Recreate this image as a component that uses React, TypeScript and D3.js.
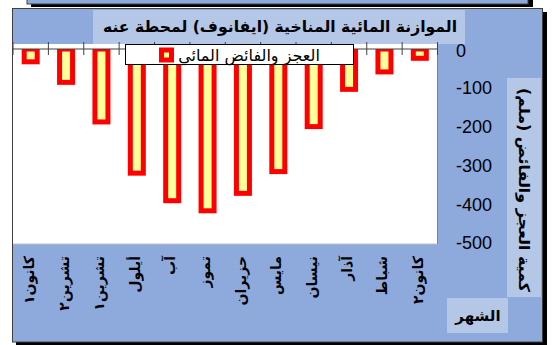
import React from 'react';
import * as d3 from 'd3';

// Monthly climatic water balance (Ivanov), mm
const months = ['كانون٢', 'شباط', 'آذار', 'نيسان', 'مايس', 'حزيران', 'تموز', 'آب', 'أيلول', 'تشرين١', 'تشرين٢', 'كانون١'];
const balance = [-24, -59, -104, -200, -316, -372, -417, -391, -320, -188, -86, -33];
const yTicks = [0, -100, -200, -300, -400, -500];

const chartTitle = 'الموازنة المائية المناخية (ايفانوف) لمحطة عنه';
const seriesName = 'العجز والفائض المائي';
const yTitle = 'كمية العجز والفائض (ملم)';
const xTitle = 'الشهر';

const W = 558;
const H = 345;
const BLUE = '#8EA9DB';
const LIGHT = '#B4C7E7';
const AR = "'DejaVu Sans', sans-serif";
const NUM = "'Liberation Sans', Arial, sans-serif";

const plot = { left: 13, right: 437.5, top: 44, bottom: 244 };

export default function App() {
  const x = d3.scaleBand<string>().domain(months).range([plot.right, plot.left]);
  const y = d3.scaleLinear().domain([0, -500]).range([49, 243]);
  const bw = x.bandwidth();
  const barW = 13;
  const edges = d3.range(months.length + 1).map((i) => plot.left + i * bw);

  return (
    <svg width={W} height={H} style={{ position: 'absolute', left: 0, top: 0 }}>
      <defs>
        <clipPath id="barClip">
          <rect x={plot.left} y={y(0)} width={plot.right - plot.left} height={plot.bottom - y(0)} />
        </clipPath>
      </defs>

      {/* frame of the neighbouring chart above */}
      <rect x={31} y={-10} width={502} height={17} fill="#000" />
      <rect x={27} y={-10} width={501} height={14} fill={BLUE} stroke="#404040" />

      {/* chart area with shadow */}
      <rect x={16} y={12} width={531} height={333} fill="#000" />
      <rect x={12.5} y={8.5} width={530} height={333.5} fill={BLUE} stroke="#404040" />

      {/* title */}
      <rect x={93} y={10} width={372} height={34} fill={LIGHT} />
      <text
        x={280}
        y={27}
        dy="0.35em"
        textAnchor="middle"
        fontFamily={AR}
        fontWeight="bold"
        fontSize={15.5}
        textLength={354}
        lengthAdjust="spacingAndGlyphs"
      >
        {chartTitle}
      </text>

      {/* plot area */}
      <rect x={plot.left} y={plot.top} width={plot.right - plot.left} height={plot.bottom - plot.top} fill="#fff" />
      <line x1={plot.right} x2={plot.right} y1={plot.top} y2={plot.bottom} stroke="#808080" />
      <line x1={plot.left} x2={plot.right} y1={plot.bottom} y2={plot.bottom} stroke="#c0c0c0" />
      <line x1={12.5} x2={12.5} y1={8.5} y2={342} stroke="#404040" />

      {/* bars */}
      <g clipPath="url(#barClip)">
        {months.map((m, i) => {
          const cx = (x(m) as number) + bw / 2;
          return (
            <rect
              key={m}
              x={cx - barW / 2}
              y={y(0)}
              width={barW}
              height={y(balance[i]) - y(0)}
              fill="#FFFF99"
              stroke="#FF0000"
              strokeWidth={5}
            />
          );
        })}
      </g>

      {/* category axis */}
      <line x1={plot.left} x2={plot.right} y1={y(0)} y2={y(0)} stroke="#404040" />
      {edges.map((ex, i) => (
        <line key={i} x1={ex} x2={ex} y1={42} y2={55} stroke="#404040" />
      ))}

      {/* legend */}
      <rect x={125.5} y={44.5} width={228} height={20} fill="#fff" stroke="#000" />
      <rect x={161.5} y={50} width={10} height={10} fill="#FFFF99" stroke="#FF0000" strokeWidth={5} />
      <text x={249} y={55} dy="0.35em" textAnchor="middle" fontFamily={AR} fontSize={16}>
        {seriesName}
      </text>

      {/* value axis labels */}
      {yTicks.map((t) => (
        <text key={t} x={456} y={y(t) + (t === 0 ? 2 : 0)} dy="0.35em" fontFamily={NUM} fontSize={18}>
          {t === 0 ? '0' : `-${Math.abs(t)}`}
        </text>
      ))}

      {/* value axis title */}
      <rect x={507} y={78} width={34} height={219} fill={LIGHT} />
      <text
        transform={`translate(524,190) rotate(90)`}
        dy="0.35em"
        textAnchor="middle"
        fontFamily={AR}
        fontWeight="bold"
        fontSize={15}
        textLength={204}
        lengthAdjust="spacingAndGlyphs"
      >
        {yTitle}
      </text>

      {/* category labels */}
      {months.map((m) => {
        const cx = (x(m) as number) + bw / 2 - 2;
        return (
          <text
            key={m}
            transform={`translate(${cx},256) rotate(-90)`}
            dy="0.35em"
            textAnchor="end"
            fontFamily={AR}
            fontWeight="bold"
            fontSize={14}
          >
            {m}
          </text>
        );
      })}

      {/* category axis title */}
      <rect x={447} y={298} width={61} height={35} fill={LIGHT} />
      <text x={478} y={316} dy="0.35em" textAnchor="middle" fontFamily={AR} fontWeight="bold" fontSize={15}>
        {xTitle}
      </text>
    </svg>
  );
}
